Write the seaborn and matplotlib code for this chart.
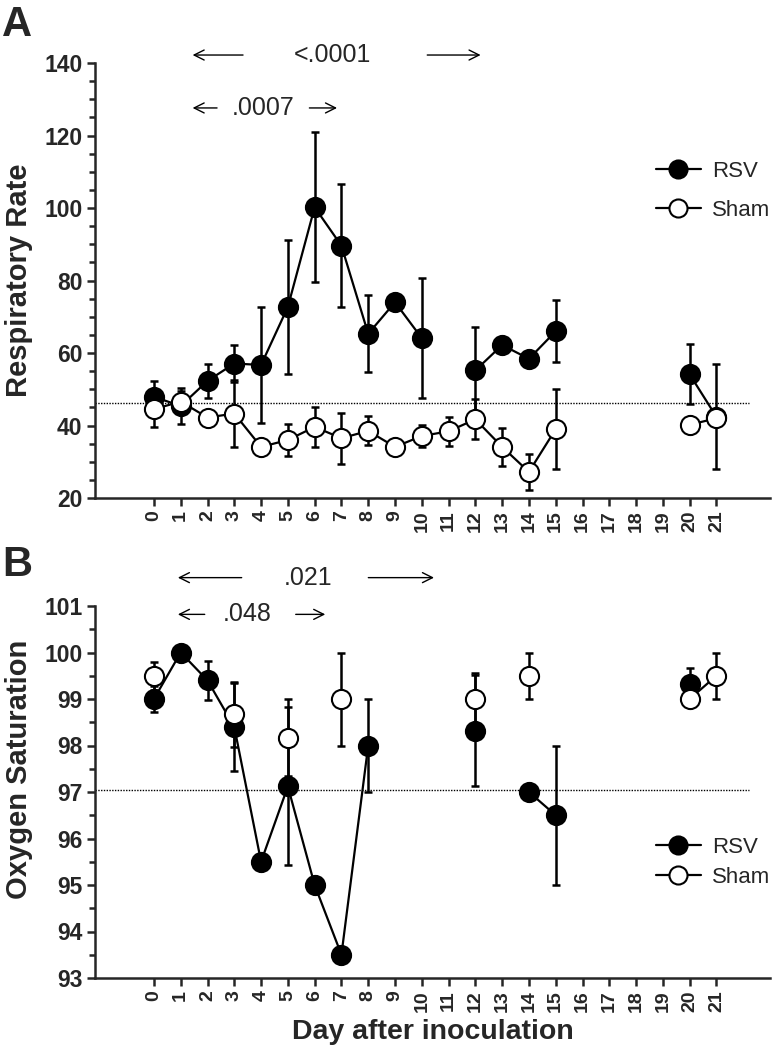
import numpy as np
import pandas as pd
import matplotlib
matplotlib.use("Agg")
import matplotlib.pyplot as plt
import seaborn as sns
from matplotlib.lines import Line2D

nan = np.nan
days = list(range(22))

# Panel A - respiratory rate (mean, error)
rr_rsv = [47.9, 45.4, 52.3, 57.1, 56.7, 72.7, 100.2, 89.6, 65.3, 74.0, 64.1, nan,
          55.2, 62.2, 58.4, 66.0, nan, nan, nan, nan, 54.1, 42.4]
rr_rsv_err = [4.5, 5.0, 4.7, 5.0, 16.0, 18.5, 20.7, 17.0, 10.6, 2.0, 16.5, nan,
              12.0, nan, nan, 8.5, nan, nan, nan, nan, 8.3, 14.5]
rr_sham = [44.5, 46.6, 42.2, 43.3, 34.1, 36.0, 39.6, 36.5, 38.5, 34.1, 37.1, 38.4,
           41.7, 34.1, 27.2, 39.0, nan, nan, nan, nan, 40.2, 42.0]
rr_sham_err = [5.0, 3.0, nan, 9.2, 2.0, 4.4, 5.5, 7.0, 4.0, 2.0, 3.0, 4.0,
               5.5, 5.3, 5.0, 11.0, nan, nan, nan, nan, nan, nan]
rr_baseline = 46.1

# Panel B - oxygen saturation
o2_rsv = [99.0, 100.0, 99.4, 98.4, 95.5, 97.12, 95.0, 93.5, 98.0, nan, nan, nan,
          98.32, nan, 97.0, 96.5, nan, nan, nan, nan, 99.33, nan]
o2_rsv_err = [0.28, nan, 0.42, 0.95, nan, 1.7, nan, nan, 1.0, nan, nan, nan,
              1.2, nan, nan, 1.5, nan, nan, nan, nan, 0.33, nan]
o2_sham = [99.5, nan, nan, 98.67, nan, 98.17, nan, 99.0, nan, nan, nan, nan,
           99.0, nan, 99.5, nan, nan, nan, nan, nan, 99.0, 99.5]
o2_sham_err = [0.3, nan, nan, 0.7, nan, 0.83, nan, 1.0, nan, nan, nan, nan,
               0.55, nan, 0.5, nan, nan, nan, nan, nan, nan, 0.5]
o2_baseline = 97.05

groups = ["RSV", "Sham"]


def long_df(rsv, rsv_err, sham, sham_err):
    frames = []
    for g, v, e in [("RSV", rsv, rsv_err), ("Sham", sham, sham_err)]:
        d = pd.DataFrame({"day": days, "value": v, "err": e, "group": g})
        d = d.dropna(subset=["value"]).reset_index(drop=True)
        # consecutive days are joined, gaps break the line
        d["seg"] = (d["day"].diff() != 1).cumsum()
        frames.append(d)
    return pd.concat(frames, ignore_index=True)


sns.set_style("ticks")
plt.rcParams["font.family"] = ["Liberation Sans", "DejaVu Sans"]

fig = plt.figure(figsize=(7.8, 10.56), dpi=100)
W, H = 780, 1056
axA = fig.add_axes([95 / W, 1 - 498 / H, 675 / W, 435 / H])
axB = fig.add_axes([95 / W, 1 - 978 / H, 675 / W, 372 / H])


def draw(ax, df):
    for g in groups:
        d = df[df.group == g]
        ax.errorbar(d["day"], d["value"], yerr=d["err"], fmt="none", ecolor="black",
                    elinewidth=1.8, capsize=3, capthick=1.8, zorder=2)
    sns.lineplot(data=df, x="day", y="value", hue="group", units="seg",
                 estimator=None, palette={"RSV": "black", "Sham": "black"},
                 linewidth=1.6, legend=False, ax=ax, zorder=3)
    for g, fc in [("RSV", "black"), ("Sham", "white")]:
        sns.scatterplot(data=df[df.group == g], x="day", y="value", color=fc,
                        edgecolor="black", linewidth=1.5, s=190, legend=False,
                        ax=ax, zorder=4)


dfA = long_df(rr_rsv, rr_rsv_err, rr_sham, rr_sham_err)
dfB = long_df(o2_rsv, o2_rsv_err, o2_sham, o2_sham_err)
draw(axA, dfA)
draw(axB, dfB)

axA.hlines(rr_baseline, -2.2, 22.2, colors="black", linestyles=(0, (1, 1)), lw=1)
axB.hlines(o2_baseline, -2.2, 22.2, colors="black", linestyles=(0, (1, 1)), lw=1)

axA.set_ylim(20, 140)
axA.set_yticks(range(20, 141, 20))
axA.set_yticks(range(20, 141, 5), minor=True)
axB.set_ylim(93, 101)
axB.set_yticks(range(93, 102))
axB.set_yticks(np.arange(93, 101.01, 0.5), minor=True)

for ax in (axA, axB):
    ax.set_xlim(-2.2, 23)
    ax.set_xticks(days)
    ax.set_xticklabels([str(d) for d in days], rotation=90, fontsize=14,
                       fontweight="bold")
    for lab in ax.get_yticklabels():
        lab.set_fontsize(16.5)
        lab.set_fontweight("bold")
    sns.despine(ax=ax)
    for s in ("left", "bottom"):
        ax.spines[s].set_linewidth(1.8)
    ax.tick_params(axis="both", which="major", length=6, width=1.8, pad=3)
    ax.tick_params(axis="y", which="minor", length=4, width=1.8)
    ax.set_xlabel("")
    ax.set_ylabel("")

axA.set_ylabel("Respiratory Rate", fontsize=21, fontweight="bold")
axB.set_ylabel("Oxygen Saturation", fontsize=21, fontweight="bold")
axA.yaxis.set_label_coords(-0.092, 0.5)
axB.yaxis.set_label_coords(-0.092, 0.56)
axB.set_xlabel("Day after inoculation", fontsize=20.5, fontweight="bold", labelpad=5)

fig.text(0.003, 0.995, "A", fontsize=30, fontweight="bold", va="top", ha="left")
fig.text(0.003, 1 - 545 / H, "B", fontsize=30, fontweight="bold", va="top", ha="left")

arrow = dict(arrowstyle="->", lw=1, color="black", mutation_scale=18)


def bracket(ax, text, x0, x1, t0, t1, xt, y):
    ax.annotate("", xy=(x0, y), xytext=(t0, y), arrowprops=arrow, annotation_clip=False)
    ax.annotate("", xy=(x1, y), xytext=(t1, y), arrowprops=arrow, annotation_clip=False)
    ax.text(xt, y, text, fontsize=18, ha="center", va="center", clip_on=False)


bracket(axA, "<.0001", 1.34, 12.3, 3.43, 10.1, 6.68, 142.2)
bracket(axA, ".0007", 1.34, 6.94, 2.46, 5.7, 4.07, 127.6)
bracket(axB, ".021", 0.79, 10.56, 3.38, 7.9, 5.75, 101.61)
bracket(axB, ".048", 0.79, 6.5, 2.0, 5.19, 3.5, 100.82)

handles = [Line2D([], [], color="black", lw=1.6, marker="o", markersize=13,
                  markerfacecolor=fc, markeredgecolor="black", markeredgewidth=1.5)
           for fc in ("black", "white")]
axA.legend(handles, groups, loc="upper left", bbox_to_anchor=(645 / W, 1 - 150 / H),
           bbox_transform=fig.transFigure, frameon=False, fontsize=16,
           handlelength=2.0, handletextpad=0.5, labelspacing=0.8, borderpad=0)
axB.legend(handles, groups, loc="upper left", bbox_to_anchor=(645 / W, 1 - 826 / H),
           bbox_transform=fig.transFigure, frameon=False, fontsize=16,
           handlelength=2.0, handletextpad=0.5, labelspacing=0.4, borderpad=0)

fig.savefig("out.png", dpi=100)
